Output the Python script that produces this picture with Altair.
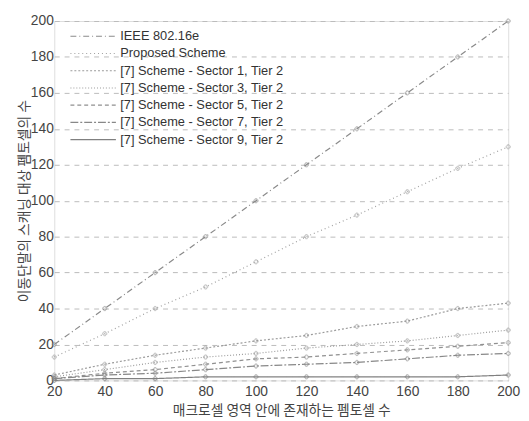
import altair as alt
import pandas as pd

x_vals = [20, 40, 60, 80, 100, 120, 140, 160, 180, 200]
series_names = [
    "IEEE 802.16e",
    "Proposed Scheme",
    "[7] Scheme - Sector 1, Tier 2",
    "[7] Scheme - Sector 3, Tier 2",
    "[7] Scheme - Sector 5, Tier 2",
    "[7] Scheme - Sector 7, Tier 2",
    "[7] Scheme - Sector 9, Tier 2",
]
ieee = [20, 40, 60, 80, 100, 120, 140, 160, 180, 200]
proposed = [13, 26, 40, 52, 66, 80, 92, 105, 118, 130]
sector1 = [3, 9, 14, 18, 22, 25, 30, 33, 40, 43]
sector3 = [2, 6, 10, 13, 15, 18, 20, 22, 25, 28]
sector5 = [1, 4, 6, 9, 12, 13, 15, 17, 19, 21]
sector7 = [1, 3, 4, 6, 8, 9, 10, 12, 14, 15]
sector9 = [0, 1, 1, 2, 2, 2, 2, 2, 2, 3]
all_values = [ieee, proposed, sector1, sector3, sector5, sector7, sector9]

colors = ["#8a8a8a", "#a0a0a0", "#9a9a9a", "#9a9a9a", "#909090", "#888888", "#808080"]
dashes = [[6, 3, 1, 3], [1, 3], [2, 2], [1, 2], [4, 3], [8, 2, 2, 2], [1, 0]]

rows = []
for name, vals in zip(series_names, all_values):
    for xv, yv in zip(x_vals, vals):
        rows.append({"series": name, "x": xv, "y": yv})
df = pd.DataFrame(rows)

font = "Liberation Sans"
kfont = "Noto Sans CJK KR"

x_enc = alt.X(
    "x:Q",
    scale=alt.Scale(domain=[20, 200], nice=False, zero=False),
    axis=alt.Axis(
        values=x_vals,
        title="매크로셀 영역 안에 존재하는 펨토셀 수",
        titleFont=kfont, titleFontSize=14, titleFontWeight="normal",
        titleColor="#444", titlePadding=6, titleLimit=0,
        labelFont=font, labelFontSize=14, labelColor="#444",
        labelFlush=False, labelOverlap=False,
        domain=False, ticks=False, grid=False, labelPadding=4,
    ),
)
y_enc = alt.Y(
    "y:Q",
    scale=alt.Scale(domain=[0, 200], nice=False),
    axis=alt.Axis(
        values=list(range(0, 201, 20)),
        labelOverlap=False,
        title="이동단말의 스캐닝 대상 펨토셀의 수",
        titleFont=kfont, titleFontSize=14, titleFontWeight="normal",
        titleColor="#444", titlePadding=-1, titleLimit=0,
        labelFont=font, labelFontSize=14, labelColor="#444",
        domain=False, ticks=False, labelPadding=1,
        grid=True, gridDash=[5, 5], gridColor="#bbbbbb", gridWidth=1,
    ),
)

color_scale = alt.Scale(domain=series_names, range=colors)

base = alt.Chart(df).encode(x=x_enc, y=y_enc)

lines = base.mark_line(strokeWidth=1.2).encode(
    color=alt.Color(
        "series:N",
        scale=color_scale,
        legend=alt.Legend(
            title=None, orient="none", legendX=31, legendY=7,
            labelFont=font, labelFontSize=13, labelColor="#333", labelLimit=0,
            symbolType="M-3,0H3", symbolSize=237, symbolStrokeWidth=1.2,
            labelOffset=19, rowPadding=1.5, padding=0,
        ),
    ),
    strokeDash=alt.StrokeDash(
        "series:N",
        scale=alt.Scale(domain=series_names, range=dashes),
        legend=None,
    ),
)

points = base.mark_point(size=18, shape="cross", filled=False, strokeWidth=0.8).encode(
    color=alt.Color("series:N", scale=color_scale, legend=None),
)

chart = (
    alt.layer(lines, points)
    .properties(
        width=461, height=365,
        autosize=alt.AutoSizeParams(type="none"),
        padding={"left": 47, "top": 10, "right": 13, "bottom": 38},
    )
    .configure_view(stroke=None)
    .configure(background="white")
)

chart.save("out.html", embed_options={"renderer": "svg", "actions": False})
